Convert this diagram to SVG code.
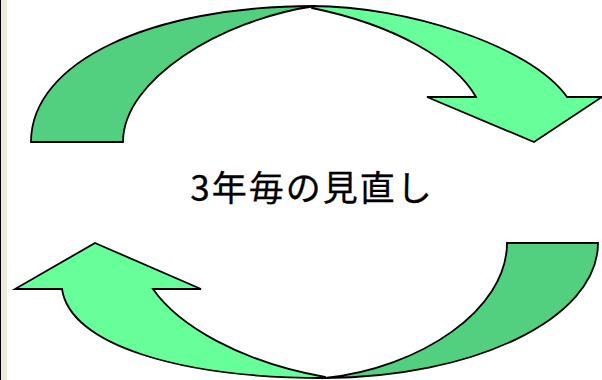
<svg xmlns="http://www.w3.org/2000/svg" width="602" height="380" viewBox="0 0 602 380">
<style>
.dark{fill:#52CF7F;stroke:#000;stroke-width:1.8;stroke-linejoin:miter}
.light{fill:#66FF99;stroke:#000;stroke-width:1.8;stroke-linejoin:miter}
.lbl{font-family:"Noto Sans CJK JP","Noto Sans",sans-serif;font-size:35px;letter-spacing:2px;fill:#000;stroke:#000;stroke-width:0.3}
</style>
<rect x="0" y="0" width="602" height="380" fill="#fff"/>
<rect x="0" y="0" width="1" height="380" fill="#000"/>
<rect x="1" y="0" width="6" height="380" fill="#ECE9E0"/>
<g id="connectors">
<g id="arrow-top-left"><path class="dark" d="M31,142 C31,62 150,6 315,6 C220,20 123,80 123,142 Z"/></g>
<g id="arrow-top-right"><path class="light" d="M312,6 C405,6 530,45 567,97 L602,97 L534,142 L427,97 L476,97 C455,60 395,25 312,8 Z"/></g>
<g id="arrow-bottom-right"><path class="dark" d="M507,243 L598,243 C598,320 470,378 325,378 C420,368 507,310 507,243 Z"/></g>
<g id="arrow-bottom-left"><path class="light" d="M95,243 L201,289 L153,289 C178,325 240,362 325,377 L325,378 C180,378 70,345 62,289 L15,289 Z"/></g>
</g>
<g id="label"><text class="lbl" x="312" y="201" text-anchor="middle">3年毎の見直し</text></g>
</svg>
